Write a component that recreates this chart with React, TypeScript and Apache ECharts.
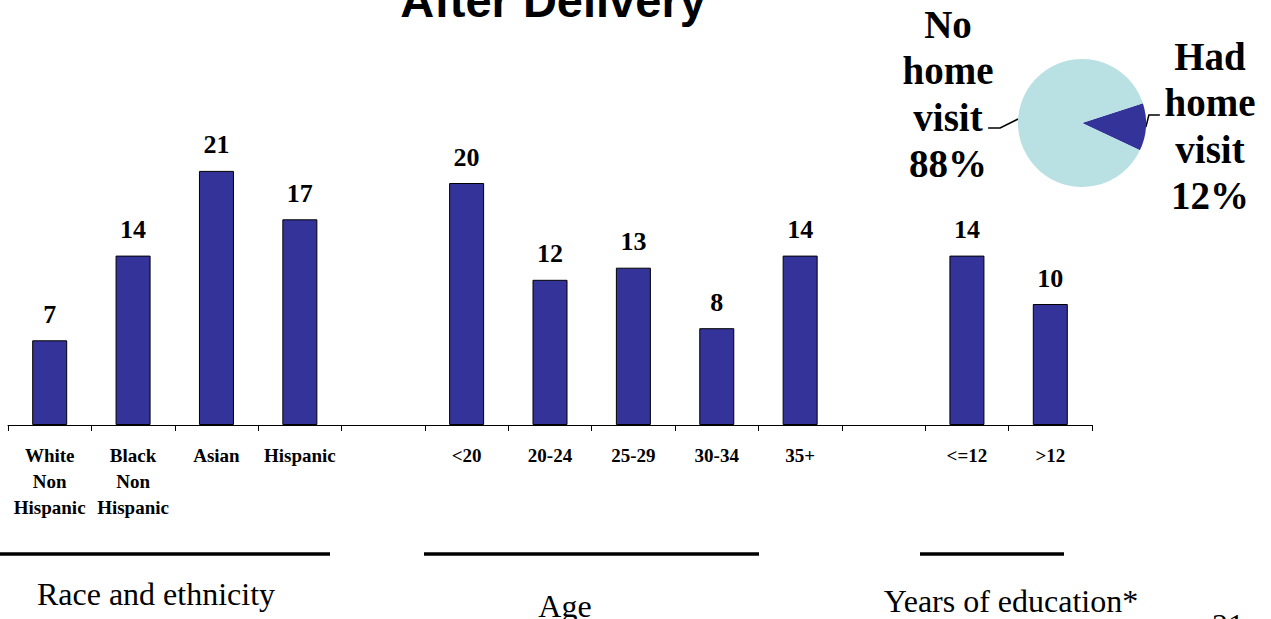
import React, { useEffect, useRef } from "react";
import * as echarts from "echarts";

const categories: string[] = [
  "White\nNon\nHispanic",
  "Black\nNon\nHispanic",
  "Asian",
  "Hispanic",
  " ",
  "<20",
  "20-24",
  "25-29",
  "30-34",
  "35+",
  "  ",
  "<=12",
  ">12",
];
const percentHomeVisit: (number | null)[] = [7, 14, 21, 17, null, 20, 12, 13, 8, 14, null, 14, 10];

const pieNames: string[] = ["Had\nhome\nvisit", "No\nhome\nvisit"];
const pieValues: number[] = [12, 88];

const groupLabels: string[] = ["Race and ethnicity", "Age", "Years of education*"];
const titleText = "After Delivery";
const pageNumber = "21";

const SERIF = "'Liberation Serif', 'Times New Roman', serif";
const SANS = "'Liberation Sans', Arial, sans-serif";

export default function App() {
  const ref = useRef<HTMLDivElement>(null);
  useEffect(() => {
    if (!ref.current) return;
    const chart = echarts.init(ref.current, undefined, { renderer: "svg" });
    const option: any = {
      animation: false,
      backgroundColor: "#ffffff",
      grid: { left: 8, right: 179, top: 62, bottom: 194, containLabel: false },
      xAxis: {
        type: "category",
        data: categories,
        axisLine: { show: true, lineStyle: { color: "#000", width: 1 } },
        axisTick: { show: true, length: 6, interval: 0, lineStyle: { color: "#000", width: 1 } },
        axisLabel: {
          interval: 0,
          margin: 17,
          color: "#000",
          fontFamily: SERIF,
          fontWeight: "bold",
          fontSize: 19,
          lineHeight: 26,
        },
      },
      yAxis: { type: "value", min: 0, max: 30, show: false, splitLine: { show: false } },
      series: [
        {
          type: "bar",
          data: percentHomeVisit,
          barWidth: 35,
          itemStyle: { color: "#333399", borderColor: "#000", borderWidth: 1 },
          label: {
            show: true,
            position: "top",
            distance: 13,
            color: "#000",
            fontFamily: SERIF,
            fontWeight: "bold",
            fontSize: 26,
          },
        },
        {
          type: "pie",
          center: [1082, 123],
          radius: 64,
          startAngle: 18,
          clockwise: true,
          data: pieNames.map((n, i) => ({ name: n, value: pieValues[i] })),
          color: ["#333399", "#B9E0E3"],
          itemStyle: { borderWidth: 0 },
          label: {
            show: true,
            formatter: (p: any) => `${p.name}\n${p.value}%`,
            color: "#000",
            fontFamily: SERIF,
            fontWeight: "bold",
            fontSize: 39,
            lineHeight: 46.5,
            align: "center",
          },
          labelLine: { show: true, length: 6, length2: 10, lineStyle: { color: "#000", width: 1.5 } },
          labelLayout: (params: any) => {
            const p0 = params.labelLinePoints && params.labelLinePoints[0];
            if (params.dataIndex === 0) {
              const res: any = { x: 1210, y: 126, align: "center", verticalAlign: "middle" };
              if (p0) res.labelLinePoints = [p0, [p0[0] + 3, p0[1] - 12], [p0[0] + 14, p0[1] - 12]];
              return res;
            }
            const res: any = { x: 948, y: 94, align: "center", verticalAlign: "middle" };
            if (p0) res.labelLinePoints = [p0, [p0[0] - 18, p0[1] + 9], [p0[0] - 30, p0[1] + 9]];
            return res;
          },
          emphasis: { disabled: true },
        },
      ],
      graphic: [
        {
          type: "text",
          x: 553,
          y: 0,
          style: {
            text: titleText,
            fill: "#000",
            font: `bold 47px ${SANS}`,
            align: "center",
            verticalAlign: "middle",
          },
        },
        { type: "line", shape: { x1: 0, y1: 554, x2: 330, y2: 554 }, style: { stroke: "#000", lineWidth: 3.5 } },
        { type: "line", shape: { x1: 424, y1: 554, x2: 759, y2: 554 }, style: { stroke: "#000", lineWidth: 3.5 } },
        { type: "line", shape: { x1: 920, y1: 554, x2: 1064, y2: 554 }, style: { stroke: "#000", lineWidth: 3.5 } },
        {
          type: "text",
          x: 156,
          y: 594,
          style: { text: groupLabels[0], fill: "#000", font: `32px ${SERIF}`, align: "center", verticalAlign: "middle" },
        },
        {
          type: "text",
          x: 565,
          y: 606,
          style: { text: groupLabels[1], fill: "#000", font: `32px ${SERIF}`, align: "center", verticalAlign: "middle" },
        },
        {
          type: "text",
          x: 1011,
          y: 601,
          style: { text: groupLabels[2], fill: "#000", font: `32px ${SERIF}`, align: "center", verticalAlign: "middle" },
        },
        {
          type: "text",
          x: 1228,
          y: 625,
          style: { text: pageNumber, fill: "#000", font: `32px ${SERIF}`, align: "center", verticalAlign: "middle" },
        },
      ],
    };
    chart.setOption(option);
    return () => chart.dispose();
  }, []);
  return (
    <div
      ref={ref}
      style={{ position: "fixed", left: 0, top: 0, width: 1271, height: 619, background: "#fff" }}
    />
  );
}
